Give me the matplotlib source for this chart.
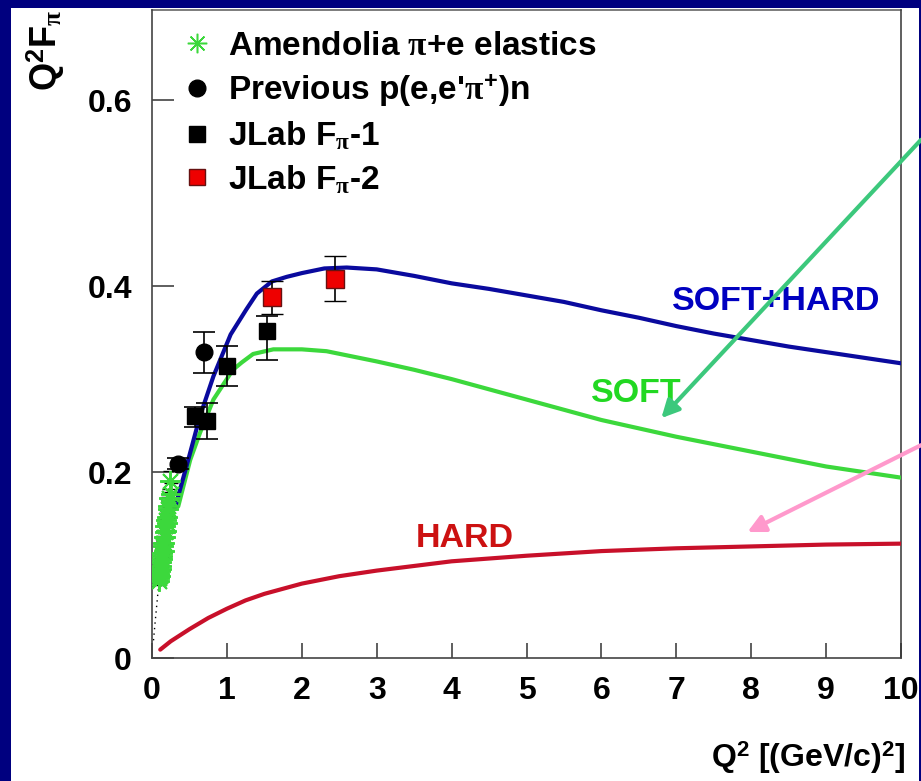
import matplotlib
matplotlib.use("Agg")
import matplotlib.pyplot as plt
from matplotlib.patches import Rectangle
from matplotlib.lines import Line2D

plt.rcParams['font.family'] = ['Liberation Sans', 'DejaVu Sans']
plt.rcParams['font.weight'] = 'bold'
plt.rcParams['mathtext.fontset'] = 'custom'
plt.rcParams['mathtext.rm'] = 'Liberation Sans:bold'
plt.rcParams['mathtext.bf'] = 'Liberation Sans:bold'
plt.rcParams['mathtext.it'] = 'Liberation Serif'

# ---- model curves: Q^2 F_pi versus Q^2 [(GeV/c)^2] ----
soft_hard_q2 = [0.30, 0.46, 0.64, 0.82, 1.05, 1.26, 1.40, 1.60, 1.80, 2.00, 2.30,
                2.60, 3.00, 3.50, 4.00, 4.50, 5.00, 5.50, 6.00, 6.50, 7.00, 7.50,
                8.00, 8.50, 9.00, 9.50, 10.0]
soft_hard_f = [0.160, 0.206, 0.260, 0.303, 0.348, 0.375, 0.392, 0.405, 0.410, 0.414,
               0.419, 0.420, 0.418, 0.411, 0.403, 0.397, 0.390, 0.383, 0.374, 0.366,
               0.357, 0.349, 0.342, 0.335, 0.329, 0.323, 0.317]

soft_q2 = [0.35, 0.51, 0.64, 0.82, 1.08, 1.20, 1.35, 1.62, 2.00, 2.33, 3.00,
           3.50, 4.00, 4.50, 5.00, 5.50, 6.00, 6.50, 7.00, 7.50, 8.00, 8.50,
           9.00, 9.50, 10.0]
soft_f = [0.163, 0.213, 0.242, 0.278, 0.310, 0.318, 0.327, 0.332, 0.332, 0.330, 0.319,
          0.310, 0.300, 0.289, 0.278, 0.267, 0.256, 0.247, 0.238, 0.230, 0.222, 0.214,
          0.206, 0.200, 0.194]

hard_q2 = [0.11, 0.25, 0.50, 0.75, 1.00, 1.25, 1.50, 2.00, 2.50, 3.00, 3.50, 4.00,
           5.00, 6.00, 7.00, 8.00, 9.00, 10.0]
hard_f = [0.009, 0.018, 0.031, 0.043, 0.053, 0.062, 0.069, 0.080, 0.088, 0.094,
          0.099, 0.104, 0.110, 0.115, 0.118, 0.120, 0.122, 0.123]

# low-Q2 monopole tail (dotted)
mono_q2 = [0.02, 0.04, 0.06, 0.08, 0.10]
mono_f = [0.019, 0.037, 0.054, 0.071, 0.085]

# ---- data ----
amend_q2 = [0.09, 0.095, 0.10, 0.105, 0.11, 0.115, 0.12, 0.125, 0.13, 0.135, 0.14,
            0.145, 0.15, 0.155, 0.16, 0.165, 0.17, 0.175, 0.18, 0.185, 0.19, 0.195,
            0.20, 0.21, 0.22, 0.23, 0.24, 0.25]
amend_f = [0.083, 0.090, 0.086, 0.094, 0.088, 0.099, 0.103, 0.096, 0.110, 0.113, 0.106,
           0.120, 0.124, 0.115, 0.130, 0.124, 0.136, 0.130, 0.142, 0.137, 0.148, 0.152,
           0.145, 0.160, 0.163, 0.172, 0.190, 0.176]
amend_err = [0.004, 0.004, 0.004, 0.004, 0.004, 0.005, 0.005, 0.005, 0.005, 0.005, 0.006,
             0.006, 0.006, 0.006, 0.007, 0.007, 0.007, 0.007, 0.008, 0.008, 0.008, 0.008,
             0.009, 0.009, 0.010, 0.010, 0.011, 0.012]

prev_q2 = [0.35, 0.69]
prev_f = [0.209, 0.329]
prev_err = [0.006, 0.022]

jlab1_q2 = [0.58, 0.74, 1.00, 1.53]
jlab1_f = [0.260, 0.255, 0.314, 0.352]
jlab1_err_lo = [0.012, 0.019, 0.021, 0.031]
jlab1_err_hi = [0.010, 0.019, 0.022, 0.016]

jlab2_q2 = [1.60, 2.44]
jlab2_f = [0.388, 0.408]
jlab2_err = [0.018, 0.024]

x_ticks = [0, 1, 2, 3, 4, 5, 6, 7, 8, 9, 10]
y_ticks = [0, 0.2, 0.4, 0.6]
y_tick_labels = ['0', '0.2', '0.4', '0.6']

NAVY = '#00007f'
BLUE = '#0a0a9e'
GREEN = '#3cd83c'
RED = '#c8102a'

W, H = 921, 781
fig = plt.figure(figsize=(W / 100, H / 100), dpi=100, facecolor=NAVY)
fig.patches.append(Rectangle((11 / W, 0), (919 - 11) / W, (H - 8) / H,
                             transform=fig.transFigure, facecolor='white',
                             edgecolor='none', zorder=-5))

ax = fig.add_axes([152 / W, (H - 658) / H, (901 - 152) / W, (658 - 10) / H])
ax.set_facecolor('white')
ax.set_xlim(0, 10)
ax.set_ylim(0, 0.697)

for s in ['top', 'right']:
    ax.spines[s].set_visible(False)
for s in ['left', 'bottom']:
    ax.spines[s].set_color('#444444')
    ax.spines[s].set_linewidth(1.2)
# closing lines of the frame box
ax.plot([0, 10], [0.697, 0.697], color='#666666', lw=1.2, clip_on=False, zorder=1)
ax.plot([10, 10], [0, 0.697], color='#444444', lw=1.2, clip_on=False, zorder=1)

ax.set_xticks(x_ticks)
ax.set_xticklabels([str(v) for v in x_ticks])
ax.set_yticks(y_ticks)
ax.set_yticklabels(y_tick_labels)
ax.tick_params(axis='x', direction='in', length=11, width=1.1, color='#333333',
               labelsize=23, pad=13)
ax.tick_params(axis='y', direction='in', length=16, width=1.1, color='#333333',
               labelsize=23, pad=14.5)
ax.minorticks_off()

# curves
ax.plot(mono_q2, mono_f, color='black', lw=1.0, ls=(0, (1, 3)), zorder=2)
ax.plot(hard_q2, hard_f, color=RED, lw=3, zorder=3, solid_capstyle='round',
        solid_joinstyle='round')
ax.plot(soft_q2, soft_f, color=GREEN, lw=3, zorder=3, solid_capstyle='round',
        solid_joinstyle='round')
ax.plot(soft_hard_q2, soft_hard_f, color=BLUE, lw=3, zorder=3, solid_capstyle='round',
        solid_joinstyle='round')

# data
ax.errorbar(amend_q2, amend_f, yerr=amend_err, fmt='none', ecolor='black',
            elinewidth=1.0, capsize=5, capthick=1.0, zorder=4)
ax.plot(amend_q2, amend_f, ls='none', marker=(8, 2, 0), ms=15, mew=1.4,
        color=GREEN, zorder=5)

ax.errorbar(prev_q2, prev_f, yerr=prev_err, fmt='o', color='black', ms=12,
            elinewidth=1.2, capsize=8, capthick=1.2, zorder=6)
ax.errorbar(jlab1_q2, jlab1_f, yerr=[jlab1_err_lo, jlab1_err_hi], fmt='s',
            color='black', ms=12, elinewidth=1.2, capsize=8, capthick=1.2, zorder=6)
ax.errorbar(jlab2_q2, jlab2_f, yerr=jlab2_err, fmt='s', mfc='#ee0000', mec='#661111',
            mew=1.0, ecolor='black', ms=13, elinewidth=1.2, capsize=8, capthick=1.2,
            zorder=6)

# curve labels
ax.text(8.33, 0.383, 'SOFT+HARD', color='#0000c0', fontsize=24.5, fontweight='bold',
        ha='center', va='center', zorder=7)
ax.text(6.47, 0.284, 'SOFT', color='#22d822', fontsize=24.5, fontweight='bold',
        ha='center', va='center', zorder=7)
ax.text(4.17, 0.129, 'HARD', color='#cc1111', fontsize=24.5, fontweight='bold',
        ha='center', va='center', zorder=7)

# pointer arrows from the right margin
ax.annotate('', xy=(6.8, 0.258), xycoords='data',
            xytext=(1.0, 0.821), textcoords='figure fraction',
            arrowprops=dict(arrowstyle='-|>', color='#3cc87c', lw=3,
                            mutation_scale=26, shrinkA=0, shrinkB=0),
            annotation_clip=False, zorder=8)
ax.annotate('', xy=(7.95, 0.1355), xycoords='data',
            xytext=(1.0, 0.430), textcoords='figure fraction',
            arrowprops=dict(arrowstyle='-|>', color='#ff99cc', lw=3,
                            mutation_scale=26, shrinkA=0, shrinkB=0),
            annotation_clip=False, zorder=8)

# legend
handles = [
    Line2D([], [], ls='none', marker=(8, 2, 0), ms=14, mew=1.1, color=GREEN),
    Line2D([], [], ls='none', marker='o', ms=12, color='black'),
    Line2D([], [], ls='none', marker='s', ms=12, color='black'),
    Line2D([], [], ls='none', marker='s', ms=12, mfc='#ee0000', mec='#661111'),
]
labels = [
    r'Amendolia $\pi$+e elastics',
    r"Previous p(e,e'$\pi^{\mathregular{+}}$)n",
    r'JLab F$_{\pi}$-1',
    r'JLab F$_{\pi}$-2',
]
leg = ax.legend(handles, labels, loc='upper left', bbox_to_anchor=(0.020, 0.988),
                frameon=False, fontsize=24, handlelength=1.0, handletextpad=0.43,
                labelspacing=0.32, borderaxespad=0)
for t in leg.get_texts():
    t.set_fontweight('bold')

# axis titles
fig.text(905 / W, 1 - 758 / H, r'Q$^{\mathregular{2}}$ [(GeV/c)$^{\mathregular{2}}$]',
         ha='right', va='center', fontsize=23, fontweight='bold')
fig.text(46 / W, 1 - 10 / H, r'Q$^{\mathregular{2}}$F$_{\pi}$', rotation=90,
         ha='center', va='top', fontsize=26, fontweight='bold')

fig.savefig('out.png', dpi=100, facecolor=NAVY)
